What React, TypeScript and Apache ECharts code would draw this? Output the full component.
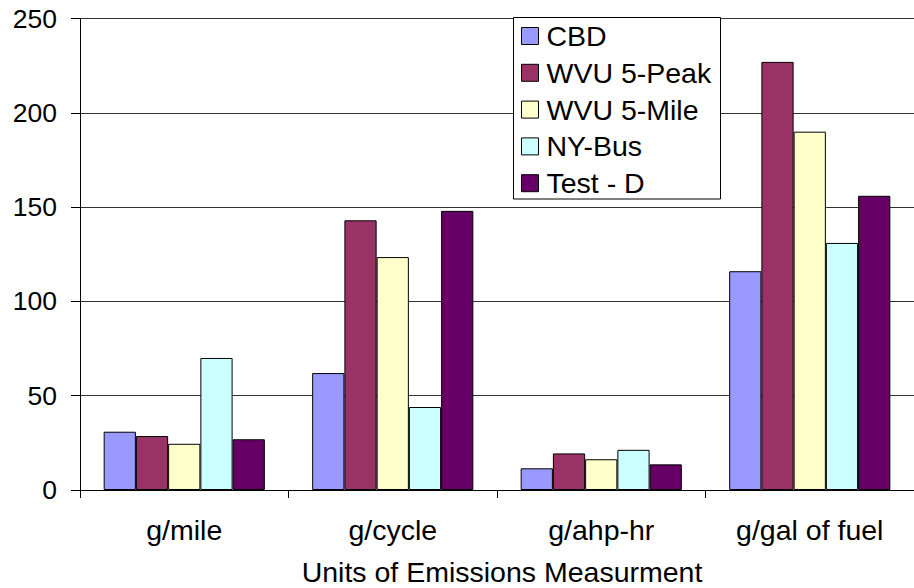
import React, { useEffect, useRef } from "react";
import * as echarts from "echarts";

const categories = ["g/mile", "g/cycle", "g/ahp-hr", "g/gal of fuel"];
const seriesNames = ["CBD", "WVU 5-Peak", "WVU 5-Mile", "NY-Bus", "Test - D"];
const cbd = [30.9, 62, 11.5, 116];
const wvuPeak = [28.6, 143, 19.4, 227];
const wvuMile = [24.5, 123.5, 16.3, 190];
const nyBus = [70, 44, 21.3, 131];
const testD = [26.9, 148, 13.6, 156];
const seriesColors = ["#9999FF", "#993366", "#FFFFCC", "#CCFFFF", "#660066"];
const yTicks = { min: 0, max: 250, interval: 50 };
const xTitle = "Units of Emissions Measurment";

const FONT = "'Liberation Sans', Arial, sans-serif";
const FS = 28.5;
const FS_Y = 26.5;

export default function App() {
  const ref = useRef<HTMLDivElement>(null);

  useEffect(() => {
    if (!ref.current) return;
    const chart = echarts.init(ref.current, undefined, { renderer: "svg" });
    const values = [cbd, wvuPeak, wvuMile, nyBus, testD];

    chart.setOption({
      animation: false,
      backgroundColor: "#ffffff",
      textStyle: { fontFamily: FONT },
      grid: { left: 80, right: -10, top: 18.5, bottom: 98, containLabel: false },
      xAxis: {
        type: "category",
        data: categories,
        boundaryGap: true,
        axisLine: { show: true, lineStyle: { color: "#000", width: 1 } },
        axisTick: { show: true, alignWithLabel: false, length: 8, lineStyle: { color: "#000" } },
        axisLabel: { color: "#000", fontSize: FS, fontFamily: FONT, margin: 25 },
        splitLine: { show: false },
      },
      yAxis: {
        type: "value",
        min: yTicks.min,
        max: yTicks.max,
        interval: yTicks.interval,
        axisLine: { show: true, lineStyle: { color: "#000", width: 1 } },
        axisTick: { show: true, length: 9, lineStyle: { color: "#000" } },
        axisLabel: { color: "#000", fontSize: FS_Y, fontFamily: FONT, margin: 23 },
        splitLine: { show: true, lineStyle: { color: "#333", width: 1 } },
      },
      legend: {
        orient: "vertical",
        left: 513,
        top: 17,
        z: 6,
        padding: [4.5, 8, 5, 8],
        itemWidth: 17,
        itemHeight: 17,
        itemGap: 7.8,
        icon: "rect",
        textStyle: { color: "#000", fontSize: FS, fontFamily: FONT, lineHeight: 28, padding: [0, 0, 0, 3] },
        data: seriesNames.map((n) => ({
          name: n,
          itemStyle: { borderColor: "#000", borderWidth: 1 },
        })),
      },
      graphic: [
        {
          type: "rect",
          z: 5,
          shape: { x: 513.5, y: 17.5, width: 207, height: 181.5 },
          style: { fill: "#fff", stroke: "#000", lineWidth: 1 },
        },
        {
          type: "text",
          x: 502,
          y: 572,
          style: {
            text: xTitle,
            x: 0,
            y: 0,
            fill: "#000",
            font: `${FS}px ${FONT}`,
            textAlign: "center",
            textVerticalAlign: "middle",
          },
        },
      ],
      series: seriesNames.map((name, i) => ({
        name,
        type: "bar",
        data: values[i],
        barGap: "0%",
        barCategoryGap: "22.7%",
        itemStyle: { color: seriesColors[i], borderColor: "#000", borderWidth: 1 },
      })),
    });

    return () => chart.dispose();
  }, []);

  return (
    <div
      ref={ref}
      style={{ position: "fixed", left: 0, top: 0, width: 914, height: 588 }}
    />
  );
}
